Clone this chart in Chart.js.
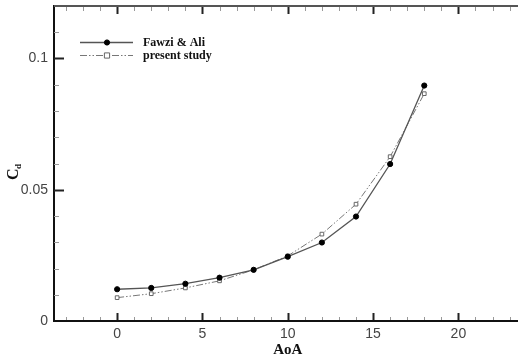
<!DOCTYPE html>
<html>
<head>
<meta charset="utf-8">
<script src="https://cdn.jsdelivr.net/npm/chart.js@4"></script>
<style>
  html, body { margin: 0; padding: 0; background: #fff; }
</style>
</head>
<body>
<canvas id="chart" width="518" height="363"></canvas>
<script>
// data
const aoa = [0, 2, 4, 6, 8, 10, 12, 14, 16, 18];
const fawziAli = [0.0121, 0.0126, 0.0142, 0.0165, 0.0195, 0.0245, 0.0299, 0.0398, 0.0598, 0.0897];
const presentStudy = [0.0089, 0.0104, 0.0126, 0.0153, 0.0195, 0.0248, 0.0331, 0.0445, 0.0626, 0.0866];
const xTicks = [0, 5, 10, 15, 20];
const yTicks = [0, 0.05, 0.1];
const seriesNames = ['Fawzi & Ali', 'present study'];

const serif = '"Liberation Serif", "Times New Roman", serif';
const sans = '"Liberation Sans", Arial, sans-serif';

const toPoints = (ys) => aoa.map((x, i) => ({ x: x, y: ys[i] }));

// inward major/minor ticks, top frame line, axis titles and legend
const frame = {
  id: 'frame',
  afterDatasetsDraw(chart) {
    const { ctx, chartArea: a, scales: { x, y } } = chart;
    ctx.save();

    // x ticks, bottom and top
    for (let v = -3; v <= 23; v++) {
      const px = Math.round(x.getPixelForValue(v)) + 0.5;
      const major = v % 5 === 0;
      ctx.lineWidth = major ? 2 : 1;
      ctx.strokeStyle = major ? '#222' : '#999';
      ctx.beginPath();
      ctx.moveTo(px, a.bottom);
      ctx.lineTo(px, a.bottom - (major ? 8 : 4));
      ctx.moveTo(px, a.top);
      ctx.lineTo(px, a.top + (major ? 8 : 5));
      ctx.stroke();
    }
    // y ticks, left only
    for (let k = 1; k <= 12; k++) {
      const v = k / 100;
      const py = Math.round(y.getPixelForValue(v)) + 0.5;
      const major = k % 5 === 0;
      ctx.lineWidth = major ? 2 : 1;
      ctx.strokeStyle = major ? '#222' : '#999';
      ctx.beginPath();
      ctx.moveTo(a.left, py);
      ctx.lineTo(a.left + (major ? 10 : 5), py);
      ctx.stroke();
    }
    // top and bottom frame lines run to the picture edge
    ctx.lineWidth = 2;
    ctx.strokeStyle = '#555';
    ctx.beginPath();
    ctx.moveTo(a.left, a.top);
    ctx.lineTo(chart.width, a.top);
    ctx.stroke();
    ctx.strokeStyle = '#111';
    ctx.beginPath();
    ctx.moveTo(a.left, a.bottom);
    ctx.lineTo(chart.width, a.bottom);
    ctx.stroke();

    // axis titles
    ctx.fillStyle = '#111';
    ctx.font = 'bold 15px ' + serif;
    ctx.textAlign = 'center';
    ctx.textBaseline = 'middle';
    ctx.fillText('AoA', x.getPixelForValue(10), 350);

    ctx.save();
    ctx.translate(14, 172);
    ctx.rotate(-Math.PI / 2);
    ctx.textAlign = 'left';
    ctx.font = 'bold 16px ' + serif;
    ctx.fillText('C', -8, 0);
    ctx.font = 'bold 9px ' + serif;
    ctx.fillText('d', 3, 5);
    ctx.restore();

    // legend
    const rows = [42, 55];
    chart.data.datasets.forEach((ds, i) => {
      const ly = rows[i] + 0.5;
      ctx.save();
      ctx.strokeStyle = ds.borderColor;
      ctx.lineWidth = ds.borderWidth;
      ctx.setLineDash(ds.borderDash || []);
      ctx.beginPath();
      ctx.moveTo(80, ly);
      ctx.lineTo(133, ly);
      ctx.stroke();
      ctx.setLineDash([]);
      ctx.fillStyle = ds.pointBackgroundColor;
      ctx.strokeStyle = ds.pointBorderColor;
      ctx.lineWidth = ds.pointBorderWidth;
      ctx.beginPath();
      if (ds.pointStyle === 'circle') {
        ctx.arc(107, ly, ds.pointRadius, 0, Math.PI * 2);
      } else {
        ctx.rect(107 - ds.pointRadius, ly - ds.pointRadius, ds.pointRadius * 2, ds.pointRadius * 2);
      }
      ctx.fill();
      ctx.stroke();
      ctx.restore();
      ctx.fillStyle = '#111';
      ctx.font = 'bold 12px ' + serif;
      ctx.textAlign = 'left';
      ctx.textBaseline = 'middle';
      ctx.fillText(ds.label, 143, ly);
    });
    ctx.restore();
  }
};

new Chart(document.getElementById('chart'), {
  type: 'line',
  data: {
    datasets: [
      {
        label: seriesNames[0],
        data: toPoints(fawziAli),
        borderColor: '#555',
        borderWidth: 1.3,
        pointStyle: 'circle',
        pointRadius: 2.6,
        pointBackgroundColor: '#000',
        pointBorderColor: '#000',
        pointBorderWidth: 1,
        tension: 0
      },
      {
        label: seriesNames[1],
        data: toPoints(presentStudy),
        borderColor: '#777',
        borderWidth: 1,
        borderDash: [7, 2, 1.5, 2, 1.5, 2],
        pointStyle: 'rect',
        pointRadius: 2.6,
        pointBackgroundColor: '#fff',
        pointBorderColor: '#666',
        pointBorderWidth: 1,
        tension: 0
      }
    ]
  },
  options: {
    responsive: false,
    animation: false,
    layout: { padding: { top: 6, left: 0, right: 0, bottom: 0 } },
    plugins: {
      legend: { display: false },
      tooltip: { enabled: false }
    },
    scales: {
      x: {
        type: 'linear',
        min: -3.7,
        max: 23.2,
        afterBuildTicks: (s) => { s.ticks = xTicks.map(v => ({ value: v })); },
        afterFit: (s) => { s.height = 42; s.paddingLeft = 0; s.paddingRight = 0; },
        grid: { display: false, drawTicks: false },
        border: { display: true, color: '#111', width: 2 },
        ticks: {
          padding: 5,
          color: '#444',
          font: { family: sans, size: 14 },
          maxRotation: 0
        }
      },
      y: {
        type: 'linear',
        min: 0,
        max: 0.12,
        afterBuildTicks: (s) => { s.ticks = yTicks.map(v => ({ value: v })); },
        afterFit: (s) => { s.width = 54; s.paddingTop = 0; s.paddingBottom = 0; },
        grid: { display: false, drawTicks: false },
        border: { display: true, color: '#111', width: 2 },
        ticks: {
          padding: 6,
          color: '#444',
          font: { family: sans, size: 14 },
          callback: (v) => String(+v.toFixed(2))
        }
      }
    }
  },
  plugins: [frame]
});
</script>
</body>
</html>
